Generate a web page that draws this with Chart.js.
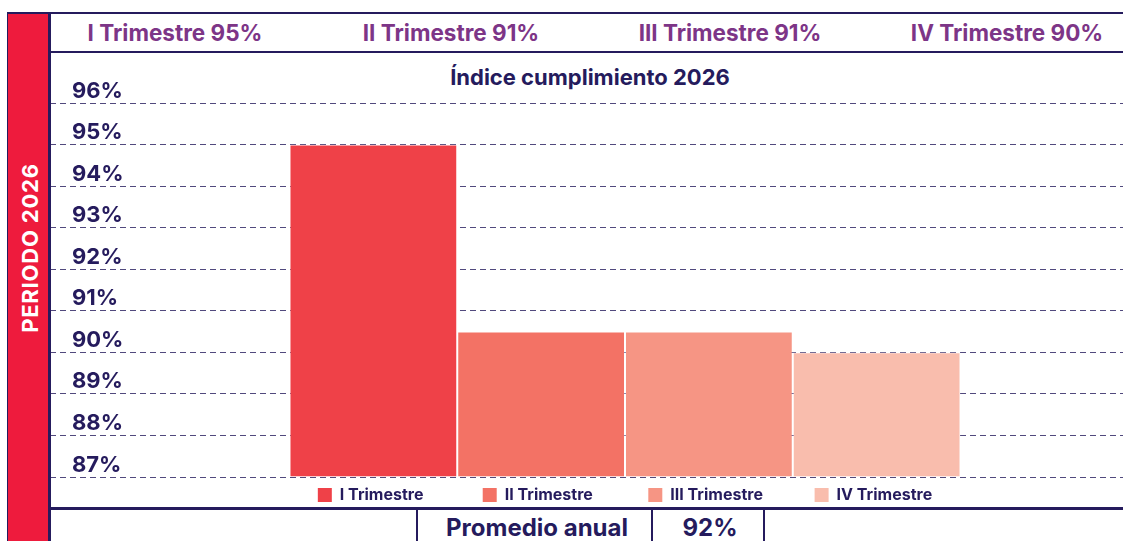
<!DOCTYPE html>
<html>
<head>
<meta charset="utf-8">
<script src="https://cdn.jsdelivr.net/npm/chart.js@4.4.1/dist/chart.umd.min.js"></script>
<style>
    body { margin: 0; width: 1123px; height: 541px; overflow: hidden; background: #fff; position: relative; font-family: Inter, sans-serif; font-weight: 700; }
    .line { position: absolute; background: #251b5d; }
    .txt { position: absolute; transform: translate(-50%, -50%); white-space: nowrap; }
    #side { position: absolute; left: 8px; top: 13px; width: 40px; height: 528px; background: #ee1b3d; }
    #sideText { color: #fff; font-size: 22px; letter-spacing: 0.8px; transform: translate(-50%, -50%) rotate(-90deg); }
    .head { top: 32px; color: #7d3587; font-size: 22.5px; }
    #title { left: 590px; top: 77px; color: #251b5d; font-size: 22px; }
    .foot { top: 527px; color: #251b5d; font-size: 24px; }
    #chartBox { position: absolute; left: 50px; top: 55px; width: 1150px; height: 458px; }
</style>
</head>
<body>
<div id="side"></div>
<div class="line" style="left:7px; top:12px; width:1px; height:529px;"></div>
<div class="line" style="left:7px; top:12px; width:1116px; height:2px;"></div>
<div class="line" style="left:48px; top:12px; width:3px; height:529px;"></div>
<div class="line" style="left:48px; top:51px; width:1075px; height:2px;"></div>
<div class="line" style="left:48px; top:507px; width:1075px; height:3px;"></div>
<div class="line" style="left:416px; top:507px; width:2px; height:34px;"></div>
<div class="line" style="left:651px; top:507px; width:2px; height:34px;"></div>
<div class="line" style="left:763px; top:507px; width:2px; height:34px;"></div>
<div class="txt" id="sideText" style="left:30px; top:248px;"></div>
<div id="headers"></div>
<div class="txt" id="title"></div>
<div class="txt foot" id="avgLabel" style="left:537px;"></div>
<div class="txt foot" id="avgValue" style="left:710px;"></div>
<div id="chartBox"><canvas id="chart"></canvas></div>

<script>
const categories = ['Índice cumplimiento 2026'];
const seriesNames = ['I Trimestre', 'II Trimestre', 'III Trimestre', 'IV Trimestre'];
const seriesValues = [95, 90.5, 90.5, 90];
const quarterPercents = [95, 91, 91, 90];
const seriesColors = ['#ef4148', '#f37265', '#f69584', '#f9bdad'];
const yMin = 87;
const yMax = 96;
const periodLabel = 'PERIODO 2026';
const annualLabel = 'Promedio anual';
const annualValue = 92;

const navy = '#251b5d';
const headerCenters = [175, 451, 730, 1007];

// header row with the quarter results
const headers = document.getElementById('headers');
seriesNames.forEach(function (name, i) {
    const d = document.createElement('div');
    d.className = 'txt head';
    d.style.left = headerCenters[i] + 'px';
    d.textContent = name + ' ' + quarterPercents[i] + '%';
    headers.appendChild(d);
});
document.getElementById('sideText').textContent = periodLabel;
document.getElementById('title').textContent = categories[0];
document.getElementById('avgLabel').textContent = annualLabel;
document.getElementById('avgValue').textContent = annualValue + '%';

const datasets = seriesNames.map(function (name, i) {
    return {
        label: name,
        data: [seriesValues[i]],
        backgroundColor: seriesColors[i],
        borderColor: 'rgba(255,255,255,0.35)',
        borderWidth: 1,
        base: yMin,
        categoryPercentage: 0.5835,
        barPercentage: 1
    };
});

// pad legend texts (all but the last) so each item takes one bar width
const legendFont = 16;
const legendStep = 168;
const measure = document.createElement('canvas').getContext('2d');
measure.font = 'bold ' + legendFont + 'px Inter';

new Chart(document.getElementById('chart'), {
    type: 'bar',
    data: { labels: categories, datasets: datasets },
    options: {
        responsive: true,
        maintainAspectRatio: false,
        animation: false,
        layout: { padding: { top: 48, left: 0, right: 0, bottom: 0 } },
        scales: {
            x: { display: false },
            y: {
                min: yMin,
                max: yMax,
                z: 1,
                afterFit: function (scale) { scale.width = 0; },
                border: { display: false, dash: [6, 4] },
                grid: { drawTicks: false, color: 'rgba(37,27,93,0.8)', lineWidth: 1 },
                ticks: {
                    stepSize: 1,
                    mirror: true,
                    padding: 22,
                    labelOffset: -12,
                    color: navy,
                    font: { family: 'Inter', size: 22, weight: 'bold' },
                    callback: function (v) { return v + '%'; }
                }
            }
        },
        plugins: {
            tooltip: { enabled: false },
            legend: {
                position: 'bottom',
                labels: {
                    boxWidth: 14,
                    boxHeight: 14,
                    padding: 10,
                    color: navy,
                    font: { family: 'Inter', size: legendFont, weight: 'bold' },
                    generateLabels: function (chart) {
                        const items = Chart.defaults.plugins.legend.labels.generateLabels(chart);
                        const target = legendStep - 10 - 14 - legendFont / 2;
                        items.forEach(function (item, i) {
                            let t = item.text;
                            if (i < items.length - 1) {
                                while (measure.measureText(t + ' ').width <= target) t += ' ';
                            }
                            item.text = t;
                            item.lineWidth = 0;
                        });
                        return items;
                    }
                }
            }
        }
    }
});
</script>
</body>
</html>
